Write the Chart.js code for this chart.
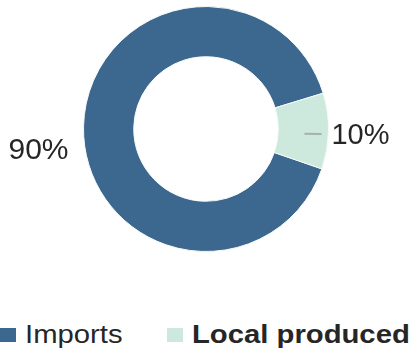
<!DOCTYPE html>
<html>
<head>
<meta charset="utf-8">
<script src="https://cdn.jsdelivr.net/npm/chart.js@4/dist/chart.umd.min.js"></script>
<style>
  html, body { margin: 0; padding: 0; background: #fff; }
  body { width: 416px; height: 354px; position: relative; overflow: hidden; font-family: "Liberation Sans", Arial, sans-serif; }
  #wrap { position: absolute; left: 0; top: 0; width: 416px; height: 300px; }
  #legend { position: absolute; left: 0; top: 322px; width: 416px; height: 25px; }
  .lg-item { position: absolute; top: 0; height: 25px; display: flex; align-items: center; }
  .lg-box { width: 16px; height: 14px; margin-right: 9px; flex: none; }
  .lg-text { font-size: 25px; line-height: 25px; color: #262626; white-space: nowrap;
             transform: scaleX(1.17); transform-origin: left center; }
</style>
</head>
<body>
<div id="wrap"><canvas id="shareChart"></canvas></div>
<div id="legend"></div>
<script>
// --------------------------
// data
// --------------------------
const categories = ["Imports", "Local produced"];
const shares = [90, 10];
const sliceColors = ["#3c6890", "#cde9dd"];
const legendWeights = ["normal", "bold"];
const legendLeft = [0, 167];

// label placement per slice (outside the ring)
const labelStyles = [
  { font: "30px 'Liberation Sans', Arial", gap: 15, dy: 24, leader: false },
  { font: "29px 'Liberation Sans', Arial", gap: 3, dy: 5, leader: true }
];

// --------------------------
// percent labels beside the ring
// --------------------------
const outsideLabels = {
  id: "outsideLabels",
  afterDatasetsDraw(chart) {
    const ctx = chart.ctx;
    const meta = chart.getDatasetMeta(0);
    const values = chart.data.datasets[0].data;
    const total = values.reduce((a, b) => a + b, 0);

    meta.data.forEach((arc, i) => {
      const p = arc.getProps(["x", "y", "startAngle", "endAngle", "outerRadius", "innerRadius"], true);
      const mid = (p.startAngle + p.endAngle) / 2;
      const cos = Math.cos(mid), sin = Math.sin(mid);
      const st = labelStyles[i];

      if (st.leader) {
        ctx.save();
        ctx.strokeStyle = "#a9aeb0";
        ctx.lineWidth = 2;
        ctx.beginPath();
        ctx.moveTo(p.x + (p.outerRadius - 24) * cos, p.y + (p.outerRadius - 24) * sin + 3);
        ctx.lineTo(p.x + (p.outerRadius - 7) * cos, p.y + (p.outerRadius - 7) * sin + 3);
        ctx.stroke();
        ctx.restore();
      }

      const r = p.outerRadius + st.gap;
      const tx = p.x + r * cos;
      const ty = p.y + r * sin + st.dy;
      const pct = Math.round(values[i] / total * 100) + "%";

      ctx.save();
      ctx.font = st.font;
      ctx.fillStyle = "#262626";
      ctx.textAlign = cos < 0 ? "right" : "left";
      ctx.textBaseline = "middle";
      ctx.fillText(pct, tx, ty);
      ctx.restore();
    });
  }
};

// --------------------------
// chart
// --------------------------
new Chart(document.getElementById("shareChart").getContext("2d"), {
  type: "doughnut",
  data: {
    labels: categories,
    datasets: [{
      data: shares,
      backgroundColor: sliceColors,
      borderColor: "#f4faf7",
      borderWidth: 1
    }]
  },
  options: {
    responsive: true,
    maintainAspectRatio: false,
    animation: false,
    cutout: "59%",
    rotation: 109,
    layout: { padding: { left: 83, right: 87, top: 6, bottom: 48 } },
    plugins: {
      legend: { display: false },
      tooltip: { enabled: false }
    }
  },
  plugins: [outsideLabels]
});

// --------------------------
// legend (html, mixed weights)
// --------------------------
const legendEl = document.getElementById("legend");
legendEl.innerHTML = categories
  .map((name, i) => `
    <div class="lg-item" style="left:${legendLeft[i]}px">
      <span class="lg-box" style="background:${sliceColors[i]}"></span>
      <span class="lg-text" style="font-weight:${legendWeights[i]}">${name}</span>
    </div>`)
  .join("");
</script>
</body>
</html>
